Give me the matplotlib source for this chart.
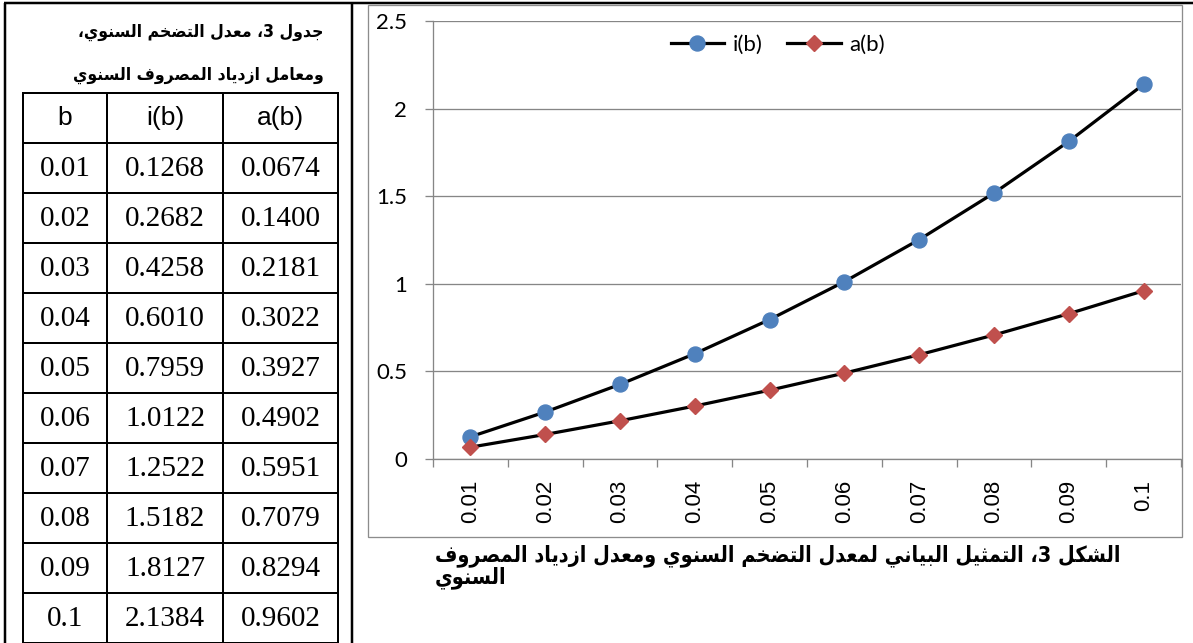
import re

import numpy as np
import matplotlib
matplotlib.use("Agg")
import matplotlib.pyplot as plt
from matplotlib.patches import Rectangle

# data, as printed in the table and plotted on the chart
b_labels = ["0.01", "0.02", "0.03", "0.04", "0.05", "0.06", "0.07", "0.08", "0.09", "0.1"]
i_vals = [0.1268, 0.2682, 0.4258, 0.6010, 0.7959, 1.0122, 1.2522, 1.5182, 1.8127, 2.1384]
a_vals = [0.0674, 0.1400, 0.2181, 0.3022, 0.3927, 0.4902, 0.5951, 0.7079, 0.8294, 0.9602]
col_heads = ["b", "i(b)", "a(b)"]
y_ticks = [0, 0.5, 1, 1.5, 2, 2.5]
y_tick_labels = ["0", "0.5", "1", "1.5", "2", "2.5"]

table_title = ["جدول 3، معدل التضخم السنوي،", "ومعامل ازدياد المصروف السنوي"]
caption = ["الشكل 3، التمثيل البياني لمعدل التضخم السنوي ومعدل ازدياد المصروف", "السنوي"]

# matplotlib has no arabic shaping, so pick presentation forms by hand
# (isolated, final, initial, medial) - right joining letters have no initial
AR_FORMS = {
    "ا": ("\uFE8D", "\uFE8E", None, None),
    "ب": ("\uFE8F", "\uFE90", "\uFE91", "\uFE92"),
    "ت": ("\uFE95", "\uFE96", "\uFE97", "\uFE98"),
    "ث": ("\uFE99", "\uFE9A", "\uFE9B", "\uFE9C"),
    "ج": ("\uFE9D", "\uFE9E", "\uFE9F", "\uFEA0"),
    "خ": ("\uFEA5", "\uFEA6", "\uFEA7", "\uFEA8"),
    "د": ("\uFEA9", "\uFEAA", None, None),
    "ر": ("\uFEAD", "\uFEAE", None, None),
    "ز": ("\uFEAF", "\uFEB0", None, None),
    "س": ("\uFEB1", "\uFEB2", "\uFEB3", "\uFEB4"),
    "ش": ("\uFEB5", "\uFEB6", "\uFEB7", "\uFEB8"),
    "ص": ("\uFEB9", "\uFEBA", "\uFEBB", "\uFEBC"),
    "ض": ("\uFEBD", "\uFEBE", "\uFEBF", "\uFEC0"),
    "ع": ("\uFEC9", "\uFECA", "\uFECB", "\uFECC"),
    "ف": ("\uFED1", "\uFED2", "\uFED3", "\uFED4"),
    "ك": ("\uFED9", "\uFEDA", "\uFEDB", "\uFEDC"),
    "ل": ("\uFEDD", "\uFEDE", "\uFEDF", "\uFEE0"),
    "م": ("\uFEE1", "\uFEE2", "\uFEE3", "\uFEE4"),
    "ن": ("\uFEE5", "\uFEE6", "\uFEE7", "\uFEE8"),
    "و": ("\uFEED", "\uFEEE", None, None),
    "ي": ("\uFEF1", "\uFEF2", "\uFEF3", "\uFEF4"),
}


def shape_ar(text):
    out = []
    for k, c in enumerate(text):
        if c not in AR_FORMS:
            out.append(c)
            continue
        prev = text[k - 1] if k > 0 else ""
        nxt = text[k + 1] if k + 1 < len(text) else ""
        iso, fin, ini, med = AR_FORMS[c]
        join_prev = prev in AR_FORMS and AR_FORMS[prev][2] is not None
        join_next = ini is not None and nxt in AR_FORMS
        if join_prev and join_next:
            out.append(med)
        elif join_prev:
            out.append(fin)
        elif join_next:
            out.append(ini)
        else:
            out.append(iso)
    # visual order right to left, but digit runs stay left to right
    s = "".join(out)[::-1]
    return re.sub(r"[0-9.]+", lambda m: m.group(0)[::-1], s)


W, H = 1193, 643
fig = plt.figure(figsize=(W / 100, H / 100), dpi=100)
px = 0.72  # one pixel in points

# background layer in pixel coordinates
bg = fig.add_axes([0, 0, 1, 1])
bg.set_xlim(0, W)
bg.set_ylim(H, 0)
bg.axis("off")

# page lines
bg.plot([4, W], [3, 3], color="black", lw=2.5 * px, solid_capstyle="butt")
bg.plot([5, 5], [3, H], color="black", lw=2.5 * px, solid_capstyle="butt")
bg.plot([352, 352], [3, H], color="black", lw=2.5 * px, solid_capstyle="butt")

# table title
for k, line in enumerate(table_title):
    bg.text(324, 32 + 43 * k, shape_ar(line), ha="right", va="center",
            fontsize=12.6, fontweight="bold", fontstretch="condensed",
            family=["DejaVu Sans"])

# table grid
col_x = [23, 107, 223, 338]
row_top = 93
row_h = 50
n_rows = len(b_labels) + 1
for x in col_x:
    bg.plot([x, x], [row_top, row_top + n_rows * row_h], color="black", lw=2 * px)
for r in range(n_rows + 1):
    y = row_top + r * row_h
    bg.plot([col_x[0], col_x[-1]], [y, y], color="black", lw=2 * px)

centers = [(col_x[c] + col_x[c + 1]) / 2 for c in range(3)]
for c, head in enumerate(col_heads):
    bg.text(centers[c], row_top + row_h / 2, head, ha="center", va="center",
            fontsize=19, family="Liberation Sans")
for r in range(len(b_labels)):
    y = row_top + (r + 1.5) * row_h
    cells = [b_labels[r], "%.4f" % i_vals[r], "%.4f" % a_vals[r]]
    for c, cell in enumerate(cells):
        bg.text(centers[c], y + 1, cell, ha="center", va="center",
                fontsize=21, family="Liberation Serif")

# chart frame
bg.add_patch(Rectangle((368, 5), 814, 532, fill=False, edgecolor="#8c8c8c", lw=1.3 * px))

# caption
for k, line in enumerate(caption):
    bg.text(435, 556 + 22 * k, shape_ar(line), ha="left", va="center",
            fontsize=15.5, fontweight="bold", fontstretch="condensed",
            family=["DejaVu Sans"])

# chart
left, right, top, bottom = 433, 1181, 21, 459
ax = fig.add_axes([left / W, (H - bottom) / H, (right - left) / W, (bottom - top) / H])
ax.set_facecolor("none")

x = np.arange(len(b_labels))
ax.plot(x, i_vals, color="black", lw=3.2 * px, marker="o", markersize=15 * px,
        markerfacecolor="#4F81BD", markeredgecolor="#4F81BD", label="i(b)", zorder=3)
ax.plot(x, a_vals, color="black", lw=3.2 * px, marker="D", markersize=12 * px,
        markerfacecolor="#C0504D", markeredgecolor="#C0504D", label="a(b)", zorder=3)

ax.set_xlim(-0.5, len(b_labels) - 0.5)
ax.set_ylim(0, 2.5)
ax.set_yticks(y_ticks)
ax.set_yticklabels(y_tick_labels, fontsize=16, family="Lato")
ax.yaxis.grid(True, color="#868686", lw=1.3 * px)
ax.set_axisbelow(True)

ax.set_xticks(np.arange(-0.5, len(b_labels)), labels=[])
ax.set_xticks(x, labels=b_labels, minor=True)
ax.tick_params(axis="x", which="minor", length=0, pad=15, labelrotation=90,
               labelsize=16)
for lab in ax.get_xticklabels(minor=True):
    lab.set_family("Liberation Sans")
ax.tick_params(axis="x", which="major", length=8 * px, color="#868686", width=1.3 * px)
ax.tick_params(axis="y", length=8 * px, color="#868686", width=1.3 * px, pad=13)

for side in ["top", "right"]:
    ax.spines[side].set_visible(False)
for side in ["left", "bottom"]:
    ax.spines[side].set_color("#868686")
    ax.spines[side].set_linewidth(1.3 * px)

ax.legend(loc="center", bbox_to_anchor=(778 / W, (H - 45) / H),
          bbox_transform=fig.transFigure, ncol=2, frameon=False,
          prop={"family": "Lato", "size": 16}, handlelength=2.4,
          handletextpad=0.4, columnspacing=1.1)

fig.savefig("out.png", dpi=100)
